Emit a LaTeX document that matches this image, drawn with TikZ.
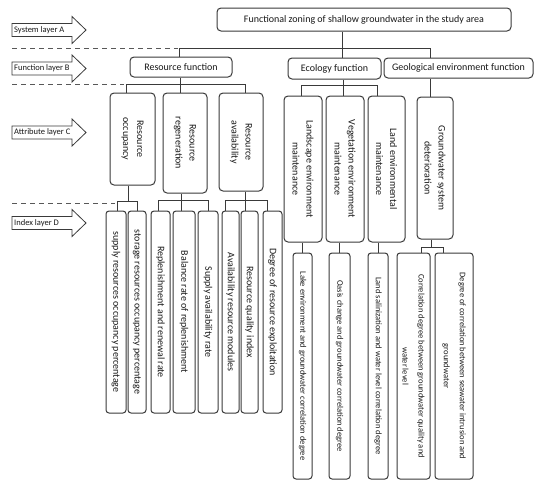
\documentclass[tikz,border=0pt]{standalone}
\usepackage{fontspec}
\setmainfont{Carlito}
\usetikzlibrary{positioning}
\definecolor{linegray}{HTML}{3A3A3A}

\tikzset{
  zonebox/.style={draw=linegray, line width=1pt, rounded corners=4pt, inner sep=0pt,
    align=center, text=black!90, font=\fontsize{10}{14}\selectfont},
  vbox/.style={zonebox, rotate=-90},
  smallvbox/.style={vbox, rounded corners=3pt, font=\fontsize{8.5}{16}\selectfont},
  link/.style={draw=linegray, line width=1pt},
  dashline/.style={draw=linegray!85, line width=0.9pt, dash pattern=on 5pt off 4pt},
  layerarrow/.style={draw=linegray, line width=0.8pt, fill=white},
  layerlabel/.style={anchor=west, inner sep=0pt, text=black!90, font=\fontsize{8.5}{10}\selectfont}
}

\begin{document}
\begin{tikzpicture}[x=1pt, y=-1pt]
\path[fill=white, use as bounding box] (0,0) rectangle (550,485);

% layer arrows on the left
\foreach \yc/\lab/\nm in {30/System layer A/layA, 68.5/Function layer B/layB,
    132.5/Attribute layer C/layC, 223/Index layer D/layD} {
  \draw[layerarrow] (12,\yc-6.5) -- (72,\yc-6.5) -- (72,\yc-13.5) -- (86,\yc)
    -- (72,\yc+13.5) -- (72,\yc+6.5) -- (12,\yc+6.5) -- cycle;
  \node[layerlabel] (\nm) at (14,\yc) {\lab};
}
\draw[dashline] (12,48) -- (178,48);
\draw[dashline] (12,84) -- (124,84);
\draw[dashline] (12,203) -- (115,203);

% system and function layers
\node[zonebox, minimum width=294pt, minimum height=23pt] (root) at (364,19.5)
  {Functional zoning of shallow groundwater in the study area};
\node[zonebox, minimum width=102pt, minimum height=20pt] (resf) at (181,67) {Resource function};
\node[zonebox, minimum width=93pt, minimum height=21pt] (ecol) at (334.5,68.5) {Ecology function};
\node[zonebox, minimum width=149pt, minimum height=20pt] (geof) at (458.5,68) {Geological environment function};

% attribute layer
\node[vbox, minimum width=92pt, minimum height=45pt] (occ) at (132.5,139) {Resource\\occupancy};
\node[vbox, minimum width=100pt, minimum height=44pt] (regen) at (185,143) {Resource\\regeneration};
\node[vbox, minimum width=98pt, minimum height=44pt] (avail) at (241,142) {Resource\\availability};
\node[vbox, minimum width=146pt, minimum height=38pt] (land) at (303,169) {Landscape environment\\maintenance};
\node[vbox, minimum width=146pt, minimum height=38pt] (veg) at (345,169) {Vegetation environment\\maintenance};
\node[vbox, minimum width=146pt, minimum height=37pt] (lenv) at (386.5,169) {Land environmental\\maintenance};
\node[vbox, minimum width=142pt, minimum height=36pt] (gsd) at (435,168) {Groundwater system\\deterioration};

% index layer
\foreach \nm/\xc/\bw/\txt in {sup/116/20/supply resources occupancy percentage,
    sto/137/18/storage resources occupancy percentage,
    rep/160.5/19/Replenishment and renewal rate,
    bal/184/22/Balance rate of replenishment,
    sav/208/20/Supply availability rate,
    arm/230.5/17/Availability resource modules,
    rqi/249.5/17/Resource quality index,
    dre/272.5/19/Degree of resource exploitation}
  \node[vbox, rounded corners=3pt, minimum width=202pt, minimum height=\bw pt] (\nm) at (\xc,312) {\txt};
\foreach \nm/\xc/\bw/\txt in {lake/302.5/19/Lake environment and groundwater correlation degree,
    oasis/339.5/21/Oasis change and groundwater correlation degree,
    lsal/378/20/Land salinization and water level correlation degree,
    cdg/413.5/33/Correlation degree between groundwater quality and\\water level,
    dcs/454/38/Degree of correlation between seawater intrusion and\\groundwater}
  \node[smallvbox, minimum width=226pt, minimum height=\bw pt] (\nm) at (\xc,366) {\txt};

% junctions
\coordinate (jA1) at (179,48);
\coordinate (jA2) at (342,48);
\coordinate (jA3) at (430,48);
\coordinate (jB1) at (126,84);
\coordinate (jB2) at (180,84);
\coordinate (jB3) at (245,84);
\coordinate (jB4) at (301,85);
\coordinate (jB5) at (343,85);
\coordinate (jB6) at (377,85);
\coordinate (jC1) at (117,201);
\coordinate (jC2) at (128,201);
\coordinate (jC3) at (137,201);
\coordinate (jC4) at (158,200);
\coordinate (jC5) at (181,200);
\coordinate (jC6) at (208,200);
\coordinate (jC7) at (225,200);
\coordinate (jC8) at (245,200);
\coordinate (jC9) at (267,200);
\coordinate (jC10) at (421,247);
\coordinate (jC11) at (431,247);
\coordinate (jC12) at (443,247);

% tree links
\draw[link] (root.south -| jA2) -- (jA2);
\draw[link] (jA1) -- (jA3);
\foreach \j/\n in {jA1/resf, jA2/ecol, jA3/geof}
  \draw[link] (\j) -- (\j |- \n.north);

\draw[link] (resf.south -| jB2) -- (jB2);
\draw[link] (jB1) -- (jB3);
\draw[link] (ecol.south -| jB5) -- (jB5);
\draw[link] (jB4) -- (jB6);
\foreach \j/\n in {jB1/occ, jB2/regen, jB3/avail, jB4/land, jB5/veg, jB6/lenv}
  \draw[link] (\j) -- (\j |- \n.west);
\draw[link] (geof.south -| jA3) -- (jA3 |- gsd.west);

\draw[link] (occ.east -| jC2) -- (jC2);
\draw[link] (jC1) -- (jC3);
\draw[link] (regen.east -| jC5) -- (jC5);
\draw[link] (jC4) -- (jC6);
\draw[link] (avail.east -| jC8) -- (jC8);
\draw[link] (jC7) -- (jC9);
\draw[link] (gsd.east -| jC11) -- (jC11);
\draw[link] (jC10) -- (jC12);
\foreach \j/\n in {jC1/sup, jC3/sto, jC4/rep, jC5/bal, jC6/sav, jC7/arm, jC8/rqi, jC9/dre, jC10/cdg, jC12/dcs}
  \draw[link] (\j) -- (\j |- \n.west);
\foreach \a/\n in {land/lake, veg/oasis, lenv/lsal}
  \draw[link] (\n.west |- \a.east) -- (\n.west);
\end{tikzpicture}
\end{document}
